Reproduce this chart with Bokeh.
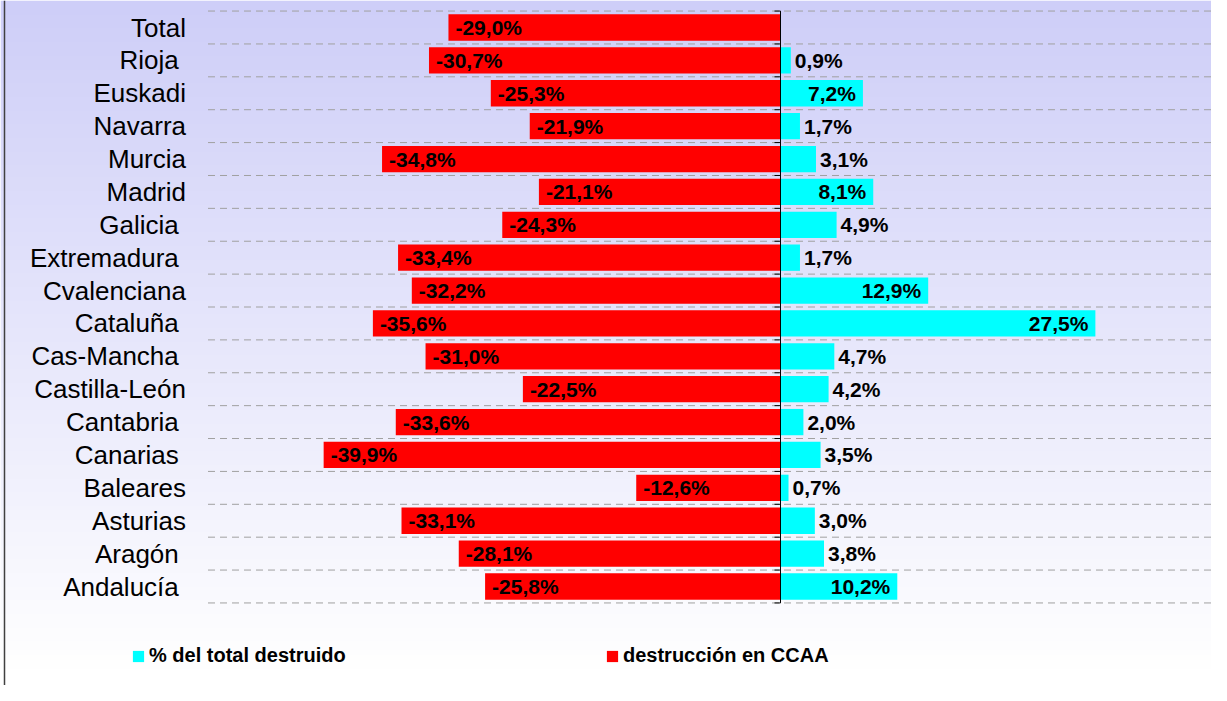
import math
import numpy as np
from bokeh.plotting import figure
from bokeh.models import ColumnDataSource, Range1d, Legend, LegendItem, Span
from bokeh.core.properties import value
from bokeh.embed import file_html
from bokeh.resources import INLINE

# ---- data (top to bottom as displayed) ----
categories = ["Total", "Rioja ", "Euskadi", "Navarra", "Murcia", "Madrid", "Galicia ",
              "Extremadura ", "Cvalenciana", "Cataluña ", "Cas-Mancha ", "Castilla-León",
              "Cantabria ", "Canarias ", "Baleares", "Asturias", "Aragón ", "Andalucía "]
destruccion = [-29.0, -30.7, -25.3, -21.9, -34.8, -21.1, -24.3, -33.4, -32.2, -35.6,
               -31.0, -22.5, -33.6, -39.9, -12.6, -33.1, -28.1, -25.8]
pct_total = [float("nan"), 0.9, 7.2, 1.7, 3.1, 8.1, 4.9, 1.7, 12.9, 27.5,
             4.7, 4.2, 2.0, 3.5, 0.7, 3.0, 3.8, 10.2]
serie_names = ["% del total destruido", "destrucción en CCAA"]
axis_min, axis_max = -50, 40

# ---- layout ----
W, H = 1211, 685
zero_px = 780.0
px_per_x = 11.45
top_row_px, bottom_row_px = 27.0, 586.0
n = len(categories)
px_per_y = (bottom_row_px - top_row_px) / (n - 1)
x0 = -zero_px / px_per_x
x1 = (W - zero_px) / px_per_x
y1 = (n - 1) + top_row_px / px_per_y
y0 = -(H - bottom_row_px) / px_per_y

def fmt(v):
    return f"{v:.1f}%".replace(".", ",")

ys = [n - 1 - i for i in range(n)]
src = ColumnDataSource(dict(y=ys, cat=categories, dest=destruccion, share=pct_total,
                            dlab=[fmt(v) for v in destruccion]))

p = figure(width=W, height=H, x_range=Range1d(x0, x1), y_range=Range1d(y0, y1),
           min_border=0, output_backend="svg", toolbar_location=None,
           x_axis_location=None, y_axis_location=None)
p.grid.visible = False
p.outline_line_color = None
p.background_fill_color = "white"
p.border_fill_color = "white"

# background gradient (lavender at top fading to white)
N = 400
img = np.zeros((N, 1), dtype=np.uint32)
view = img.view(dtype=np.uint8).reshape((N, 1, 4))
top_c = np.array([206, 206, 248])
for r in range(N):
    cy = H - (r + 0.5) * H / N
    t = min(max(cy / 668.0, 0.0), 1.0)
    c = top_c + (np.array([255, 255, 255]) - top_c) * t
    view[r, 0, 0:3] = c.astype(np.uint8)
    view[r, 0, 3] = 255
p.image_rgba(image=[img], x=x0, y=y0, dw=x1 - x0, dh=y1 - y0)

# dashed separators
bounds = [k - 0.5 for k in range(n + 1)]
p.segment(x0=axis_min, x1=axis_max, y0=bounds, y1=bounds, line_color="#a0a0a0",
          line_width=1, line_dash="7 5")

# bars
red = p.hbar(y="y", left=0, right="dest", height=0.8, fill_color="#FF0000",
             line_color=None, source=src)
cyan = p.hbar(y="y", left=0, right="share", height=0.8, fill_color="#00FFFF",
              line_color=None, source=src)

# zero axis with ticks
p.segment(x0=0, x1=0, y0=-0.5, y1=n - 0.5, line_color="black", line_width=1)
p.ray(x=[0] * len(bounds), y=bounds, length=6, length_units="screen", angle=math.pi,
      line_color="black", line_width=1)

# category labels
p.text(x=axis_min, y="y", text="cat", source=src, x_offset=-22, text_align="right",
       text_baseline="middle", text_font=value("Liberation Sans"), text_font_size="26px",
       text_color="black")

# red labels
p.text(x="dest", y="y", text="dlab", source=src, x_offset=7, text_align="left",
       text_baseline="middle", text_font=value("Liberation Sans"), text_font_size="21px",
       text_font_style="bold", text_color="black")

# cyan labels
big = dict(x=[], y=[], t=[])
small = dict(x=[], y=[], t=[])
for yy, v in zip(ys, pct_total):
    if v != v:
        continue
    d = big if v >= 6 else small
    d["x"].append(v); d["y"].append(yy); d["t"].append(fmt(v))
p.text(x=big["x"], y=big["y"], text=big["t"], x_offset=-7, text_align="right",
       text_baseline="middle", text_font=value("Liberation Sans"), text_font_size="21px",
       text_font_style="bold", text_color="black")
p.text(x=small["x"], y=small["y"], text=small["t"], x_offset=4, text_align="left",
       text_baseline="middle", text_font=value("Liberation Sans"), text_font_size="21px",
       text_font_style="bold", text_color="black")

# left frame border
p.add_layout(Span(location=4, location_units="screen", dimension="height",
                  line_color="#404040", line_width=1.5))

# legends
def mk_leg(label, r, loc):
    lg = Legend(items=[LegendItem(label=label, renderers=[r])], location=loc,
                orientation="horizontal", padding=0, margin=0, glyph_width=14,
                glyph_height=14, label_standoff=4, label_height=14,
                label_text_font="Liberation Sans", label_text_font_size="20px",
                label_text_font_style="bold", label_text_color="black",
                background_fill_alpha=0, border_line_alpha=0)
    return lg

p.add_layout(mk_leg(serie_names[0], cyan, (131, 18)))
p.add_layout(mk_leg(serie_names[1], red, (605, 18)))

open("out.html", "w").write(file_html(p, INLINE))
